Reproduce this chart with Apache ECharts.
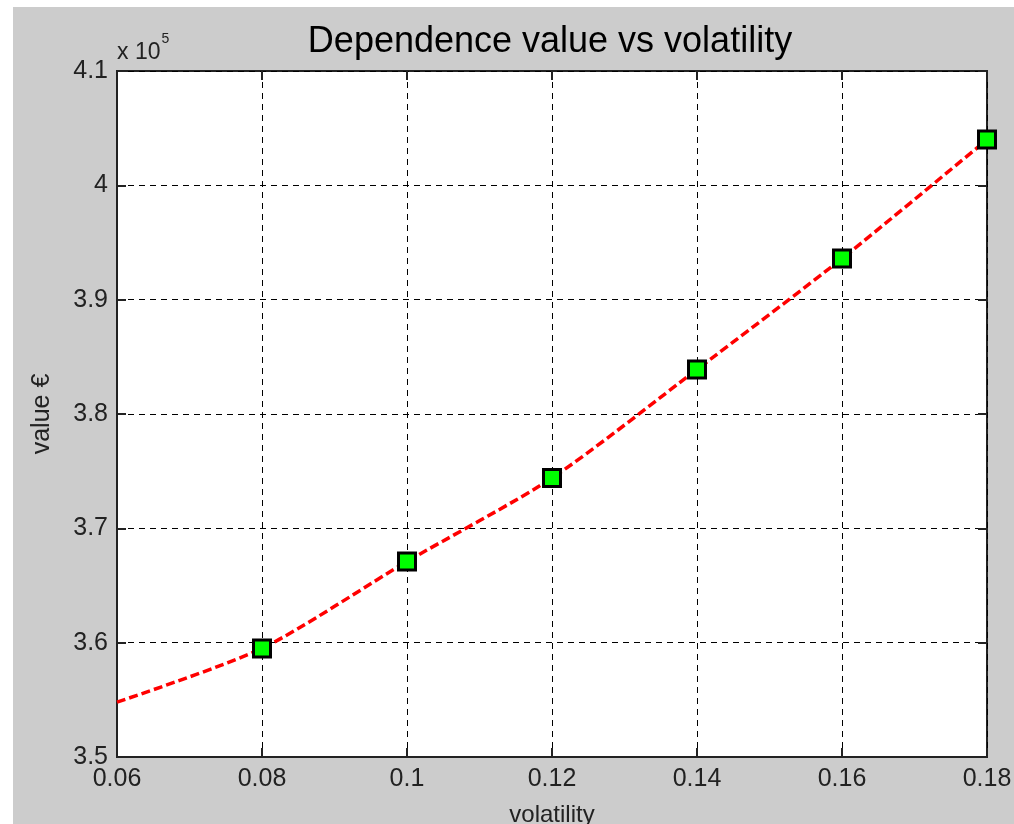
<!DOCTYPE html>
<html>
<head>
<meta charset="utf-8">
<script src="https://cdn.jsdelivr.net/npm/echarts@6/dist/echarts.min.js"></script>
<style>
html, body { margin: 0; padding: 0; background: #ffffff; }
#main { position: absolute; left: 13px; top: 7px; width: 1001px; height: 817px; }
</style>
</head>
<body>
<div id="main"></div>
<script>
// volatility values along x, values in units of 1e5 euro
var volatility = [0.06, 0.08, 0.10, 0.12, 0.14, 0.16, 0.18];
var values = [3.548, 3.595, 3.671, 3.744, 3.839, 3.936, 4.040];
var markerFrom = 1; // markers drawn only at the computed points

var font = '"Liberation Sans", Arial, sans-serif';

var lineData = volatility.map(function (v, i) { return [v, values[i]]; });
var markData = lineData.slice(markerFrom);

var chart = echarts.init(document.getElementById('main'));

chart.setOption({
    backgroundColor: '#cccccc',
    animation: false,
    title: {
        text: 'Dependence value vs volatility',
        left: 532,
        top: 12,
        textAlign: 'center',
        textStyle: { fontFamily: font, fontSize: 36, fontWeight: 'normal', color: '#000' }
    },
    graphic: [{
        type: 'text',
        left: 104,
        top: 25,
        style: {
            text: '{a|x 10}{b|5}',
            rich: {
                a: { fontFamily: font, fontSize: 23, fill: '#222', verticalAlign: 'bottom', lineHeight: 32 },
                b: { fontFamily: font, fontSize: 14, fill: '#222', verticalAlign: 'top', padding: [0, 0, 16, 1] }
            }
        }
    }],
    grid: {
        left: 104,
        top: 64,
        width: 870,
        height: 686,
        outerBoundsMode: 'none',
        containLabel: false,
        show: true,
        backgroundColor: '#ffffff',
        borderColor: '#222',
        borderWidth: 2
    },
    xAxis: [{
        type: 'value',
        min: 0.06,
        max: 0.18,
        interval: 0.02,
        name: 'volatility',
        nameLocation: 'middle',
        nameGap: 46,
        nameTextStyle: { fontFamily: font, fontSize: 24, color: '#222' },
        axisLine: { lineStyle: { color: '#222', width: 2 } },
        axisTick: { inside: true, length: 9, lineStyle: { color: '#222', width: 2 } },
        axisLabel: {
            fontFamily: font, fontSize: 25, color: '#222', margin: 10,
            formatter: function (v) { return String(parseFloat(v.toFixed(2))); }
        },
        splitLine: { show: true, lineStyle: { color: '#000', width: 1, type: [6, 5] } }
    }, {
        type: 'value',
        position: 'top',
        min: 0.06,
        max: 0.18,
        interval: 0.02,
        axisLine: { show: false },
        axisTick: { inside: true, length: 9, lineStyle: { color: '#222', width: 2 } },
        axisLabel: { show: false },
        splitLine: { show: false }
    }],
    yAxis: [{
        type: 'value',
        min: 3.5,
        max: 4.1,
        interval: 0.1,
        name: 'value €',
        nameLocation: 'middle',
        nameGap: 62,
        nameTextStyle: { fontFamily: font, fontSize: 25, color: '#222' },
        axisLine: { lineStyle: { color: '#222', width: 2 } },
        axisTick: { inside: true, length: 9, lineStyle: { color: '#222', width: 2 } },
        axisLabel: {
            fontFamily: font, fontSize: 25, color: '#222', margin: 9,
            formatter: function (v) { return String(parseFloat(v.toFixed(1))); }
        },
        splitLine: { show: true, lineStyle: { color: '#000', width: 1, type: [6, 5] } }
    }, {
        type: 'value',
        position: 'right',
        min: 3.5,
        max: 4.1,
        interval: 0.1,
        axisLine: { show: false },
        axisTick: { inside: true, length: 9, lineStyle: { color: '#222', width: 2 } },
        axisLabel: { show: false },
        splitLine: { show: false }
    }],
    series: [{
        type: 'line',
        data: lineData,
        smooth: 0.25,
        showSymbol: false,
        symbol: 'none',
        lineStyle: { color: '#ff0000', width: 3.5, type: [9, 4] },
        z: 3
    }, {
        type: 'scatter',
        data: markData,
        symbol: 'rect',
        symbolSize: 17,
        itemStyle: { color: '#00ff00', borderColor: '#000', borderWidth: 3, opacity: 1 },
        z: 4
    }]
});
</script>
</body>
</html>
